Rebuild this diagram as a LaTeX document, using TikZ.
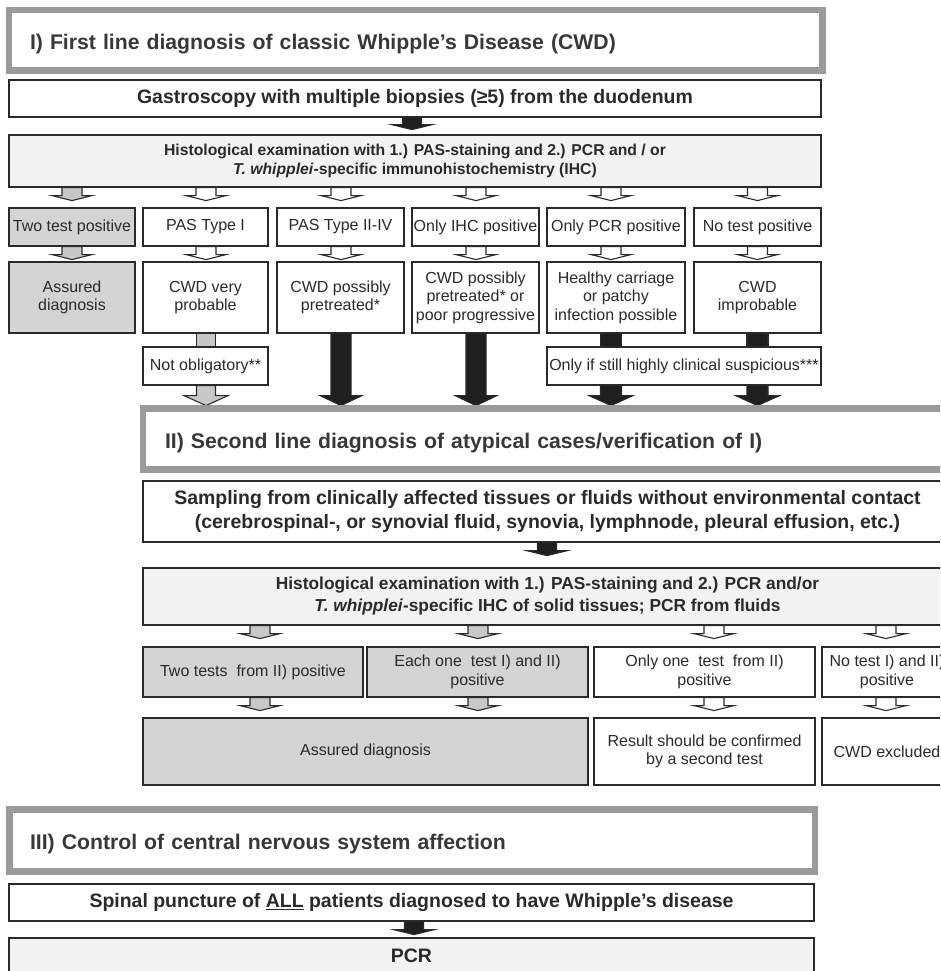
\documentclass[tikz,border=0pt]{standalone}
\usepackage{fontspec}
\setmainfont{Liberation Sans}
\usetikzlibrary{calc}
\definecolor{frameg}{HTML}{9A9A9A}
\definecolor{boxg}{HTML}{D4D4D4}
\definecolor{histg}{HTML}{F2F2F2}
\definecolor{ink}{HTML}{2A2A2A}
\definecolor{titleink}{HTML}{383838}
\definecolor{arrg}{HTML}{C8C8C8}
\newcommand{\ftitle}{\fontsize{15.9}{19}\selectfont\bfseries}
\newcommand{\fbig}{\fontsize{14.6}{18}\selectfont\bfseries}
\newcommand{\fhistA}{\fontsize{11.8}{14.25}\selectfont\bfseries}
\newcommand{\fhistB}{\fontsize{13}{16.5}\selectfont\bfseries}
\newcommand{\fsmall}{\fontsize{12}{13.9}\selectfont}
% box from (x1,y1) to (x2,y2) in pixel units
\newcommand{\bx}[7]{\node[#2, minimum width={0.75pt*(#5-#3)}, minimum height={0.75pt*(#6-#4)}] (#1) at ({(#3+#5)/2},{(#4+#6)/2}) {#7};}
% framed title: name, x1,y1,x2,y2, text start x, text
\newcommand{\fr}[7]{\node[framebox, minimum width={0.75pt*(#4-#2)}, minimum height={0.75pt*(#5-#3)}, inner xsep={0.75pt*(#6-#2)}, text width={0.75pt*(#4-#2-2*(#6-#2))}] (#1) at ({(#2+#4)/2},{(#3+#5)/2}) {#7};}
% block arrow: style, start, shaft length, head length, shaft half width, head half width
\newcommand{\barr}[6]{\filldraw[#1] ($(#2)+(-#5,0)$) -- ($(#2)+(-#5,#3)$) -- ($(#2)+(-#6,#3)$) -- ($(#2)+(0,#3+#4)$) -- ($(#2)+(#6,#3)$) -- ($(#2)+(#5,#3)$) -- ($(#2)+(#5,0)$) -- cycle;}
\begin{document}
\begin{tikzpicture}[x=0.75pt,y=-0.75pt,
  box/.style={draw=ink, line width=0.9pt, inner sep=0pt, align=center, text=ink, font=\fsmall},
  graybox/.style={box, fill=boxg},
  histbox/.style={box, fill=histg},
  framebox/.style={draw=frameg, line width=5pt, inner ysep=0pt, align=left, text=titleink, font=\ftitle, text height=14.6pt, text depth=1.1pt},
  warr/.style={draw=ink, line width=0.8pt, fill=white},
  garr/.style={draw=ink, line width=0.8pt, fill=arrg},
  barrw/.style={draw=ink, line width=0.8pt, fill=black!88}]
\useasboundingbox (0,0) rectangle (940,971);
\clip (0,0) rectangle (940,971);
\fill[white] (0,0) rectangle (940,971);
% column coordinates
\coordinate (c1) at (72,0);
\coordinate (c2) at (206,0);
\coordinate (c3) at (341,0);
\coordinate (c4) at (476,0);
\coordinate (c5) at (611,0);
\coordinate (c6) at (757.5,0);
\coordinate (d1) at (260,0);
\coordinate (d2) at (478,0);
\coordinate (d3) at (714,0);
\coordinate (d4) at (886,0);
\coordinate (g1) at (412,0);
\coordinate (g2) at (547,0);
\coordinate (g3) at (414,0);

% ---------- Section I ----------
\fr{f1}{9}{10}{822.5}{70.5}{30}{I) First line diagnosis of classic Whipple’s Disease (CWD)}
\bx{gastro}{box, font=\fbig}{9}{80}{821}{117}{Gastroscopy with multiple biopsies (≥5) from the duodenum}
\bx{hist1}{histbox, font=\fhistA}{9}{135}{821}{187}{Histological examination with 1.) PAS-staining and 2.) PCR and / or\\\textit{T. whipplei}-specific immunohistochemistry (IHC)}
\barr{barrw}{gastro.south -| g1}{7}{5}{9.5}{20.5}

\bx{r1a}{graybox}{9}{208}{135}{246}{Two test positive}
\bx{r1b}{box}{143}{208}{268}{246}{PAS Type I}
\bx{r1c}{box}{277}{208}{404}{246}{PAS Type II-IV}
\bx{r1d}{box}{412}{208}{539}{246}{Only IHC positive}
\bx{r1e}{box}{547}{208}{685}{246}{Only PCR positive}
\bx{r1f}{box}{694}{208}{821}{246}{No test positive}

\barr{garr}{hist1.south -| c1}{8}{5}{10}{20}
\barr{warr}{hist1.south -| c2}{8}{5}{10}{20}
\barr{warr}{hist1.south -| c3}{8}{5}{10}{20}
\barr{warr}{hist1.south -| c4}{8}{5}{10}{20}
\barr{warr}{hist1.south -| c5}{8}{5}{10}{20}
\barr{warr}{hist1.south -| c6}{8}{5}{10}{20}

\bx{r2a}{graybox}{9}{262}{135}{333}{Assured\\diagnosis}
\bx{r2b}{box}{143}{262}{268}{333}{CWD very\\probable}
\bx{r2c}{box}{277}{262}{404}{333}{CWD possibly\\pretreated*}
\bx{r2d}{box}{412}{262}{539}{333}{CWD possibly\\pretreated* or\\poor progressive}
\bx{r2e}{box}{547}{262}{685}{333}{Healthy carriage\\or patchy\\infection possible}
\bx{r2f}{box}{694}{262}{821}{333}{CWD\\improbable}

\barr{garr}{r1a.south -| c1}{8}{5}{10}{20}
\barr{warr}{r1b.south -| c2}{8}{5}{10}{20}
\barr{warr}{r1c.south -| c3}{8}{5}{10}{20}
\barr{warr}{r1d.south -| c4}{8}{5}{10}{20}
\barr{warr}{r1e.south -| c5}{8}{5}{10}{20}
\barr{warr}{r1f.south -| c6}{8}{5}{10}{20}

\bx{notob}{box}{143}{347}{268}{385}{Not obligatory**}
\bx{onlyif}{box}{547}{347}{821}{385}{Only if still highly clinical suspicious***}

\filldraw[garr] ($(r2b.south -| c2)+(-9.5,0)$) rectangle ($(notob.north -| c2)+(9.5,0)$);
\filldraw[barrw] ($(r2e.south -| c5)+(-10.5,0)$) rectangle ($(onlyif.north -| c5)+(10.5,0)$);
\filldraw[barrw] ($(r2f.south -| c6)+(-10.5,0)$) rectangle ($(onlyif.north -| c6)+(10.5,0)$);

\barr{garr}{notob.south -| c2}{10}{10}{9.5}{22}
\barr{barrw}{r2c.south -| c3}{62}{10}{10}{21}
\barr{barrw}{r2d.south -| c4}{62}{10}{10}{21}
\barr{barrw}{onlyif.south -| c5}{10}{10}{10.5}{22}
\barr{barrw}{onlyif.south -| c6}{10}{10}{10.5}{22}

% ---------- Section II ----------
\fr{f2}{143}{408.5}{965}{469.5}{165}{II) Second line diagnosis of atypical cases/verification of I)}
\bx{samp}{box, font=\fbig}{143}{481}{952}{542}{Sampling from clinically affected tissues or fluids without environmental contact\\(cerebrospinal-, or synovial fluid, synovia, lymphnode, pleural effusion, etc.)}
\barr{barrw}{samp.south -| g2}{8}{5}{9.5}{20.5}
\bx{hist2}{histbox, font=\fhistB}{143}{568}{952}{625}{Histological examination with 1.) PAS-staining and 2.) PCR and/or\\\textit{T. whipplei}-specific IHC of solid tissues; PCR from fluids}

\bx{s1a}{graybox}{143}{647}{363}{697}{Two tests\ \ from II) positive}
\bx{s1b}{graybox}{367}{647}{588}{697}{Each one\ \ test I) and II)\\positive}
\bx{s1c}{box}{594}{647}{815}{697}{Only one\ \ test\ \ from II)\\positive}
\bx{s1d}{box}{822}{647}{952}{697}{No test I) and II)\\positive}

\barr{garr}{hist2.south -| d1}{8}{5}{10}{20}
\barr{garr}{hist2.south -| d2}{8}{5}{10}{20}
\barr{warr}{hist2.south -| d3}{8}{5}{10}{20}
\barr{warr}{hist2.south -| d4}{8}{5}{10}{20}

\bx{s2a}{graybox}{143}{718}{588}{785}{Assured diagnosis}
\bx{s2c}{box}{594}{718}{815}{785}{Result should be confirmed\\by a second test}
\bx{s2d}{box}{822}{718}{952}{785}{CWD excluded}

\barr{garr}{s1a.south -| d1}{8}{5}{10}{20}
\barr{garr}{s1b.south -| d2}{8}{5}{10}{20}
\barr{warr}{s1c.south -| d3}{8}{5}{10}{20}
\barr{warr}{s1d.south -| d4}{8}{5}{10}{20}

% ---------- Section III ----------
\fr{f3}{9.5}{809.5}{815}{871.5}{30}{III) Control of central nervous system affection}
\bx{spinal}{box, font=\fbig}{9}{884}{814}{921}{Spinal puncture of \underline{ALL} patients diagnosed to have Whipple’s disease}
\barr{barrw}{spinal.south -| g3}{8}{5}{9.5}{20.5}
\bx{pcr}{histbox, font=\fbig}{9}{938}{814}{974}{PCR}
\end{tikzpicture}
\end{document}
